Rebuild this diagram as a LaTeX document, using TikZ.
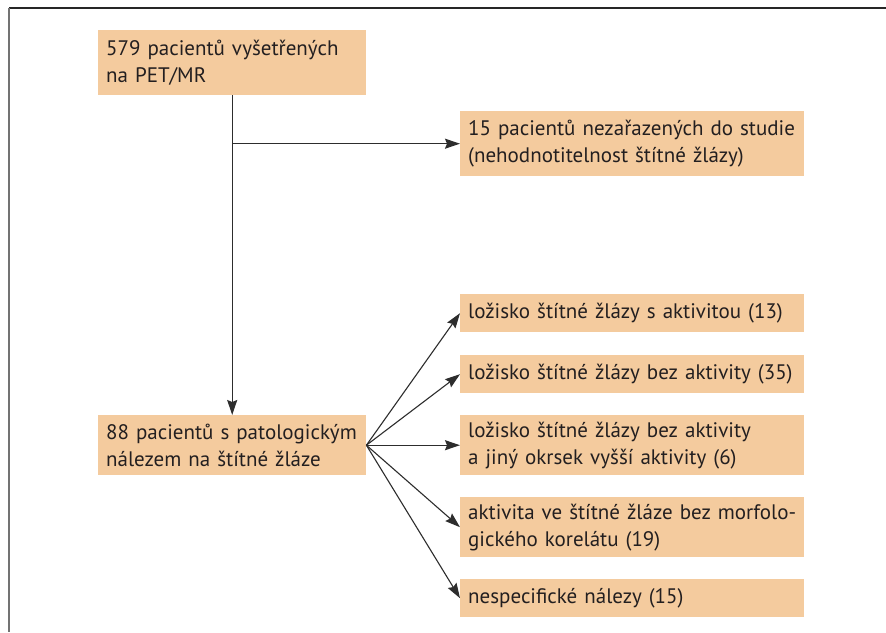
\documentclass[tikz,border=0pt]{standalone}
\usepackage{fontspec}
\setmainfont{PT Sans}
\usetikzlibrary{arrows.meta}
\definecolor{boxfill}{RGB}{244,203,158}
\definecolor{txt}{RGB}{35,31,32}
\definecolor{ln}{RGB}{45,45,45}
\tikzset{
  box/.style={fill=boxfill, text=txt, align=left, anchor=north west,
    inner xsep=8pt, inner ysep=0pt, font=\fontsize{21}{27}\selectfont},
  boxA/.style={box, text width=252pt},
  boxR/.style={box, text width=328pt},
  arr/.style={draw=ln, line width=1.1pt, -{Stealth[length=15pt,width=10pt,inset=2pt]}}
}
\begin{document}
\begin{tikzpicture}[x=1pt,y=-1pt]
\useasboundingbox (0,0) rectangle (886,632);
\fill[white] (0,0) rectangle (886,632);
\draw[line width=1.4pt, black!85] (9,8) -- (886,8);
\draw[line width=1.4pt, black!55] (9,8) -- (9,632);

\node[boxA, minimum height=65pt] (A) at (98,30) {579 pacientů vyšetřených\\na PET/MR};
\node[boxA, minimum height=60pt] (B) at (98,415) {88 pacientů s patologickým\\nálezem na štítné žláze};
\node[boxR, minimum height=65pt] (C) at (460,111) {15 pacientů nezařazených do studie\\(nehodnotitelnost štítné žlázy)};
\node[boxR, minimum height=38pt] (R1) at (460,294) {ložisko štítné žlázy s aktivitou (13)};
\node[boxR, minimum height=38pt] (R2) at (460,355) {ložisko štítné žlázy bez aktivity (35)};
\node[boxR, minimum height=60pt] (R3) at (460,415) {ložisko štítné žlázy bez aktivity\\a jiný okrsek vyšší aktivity (6)};
\node[boxR, minimum height=60pt] (R4) at (460,497) {aktivita ve štítné žláze bez morfolo-\\gického korelátu (19)};
\node[boxR, minimum height=38pt] (R5) at (460,579) {nespecifické nálezy (15)};

\draw[arr] (A.south) -- (B.north);
\draw[arr] (A.south |- C.west) -- (C.west);
\foreach \r in {R1,R2,R3,R4,R5} \draw[arr] (B.east) -- (\r.west);
\end{tikzpicture}
\end{document}
